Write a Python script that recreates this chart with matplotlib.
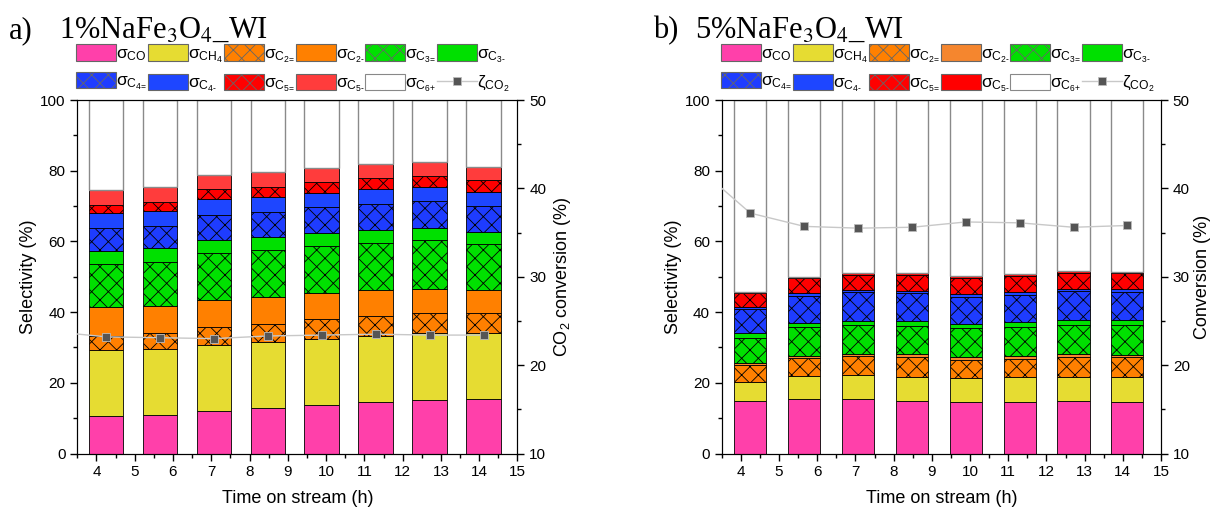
"""
plot.py - product selectivity and CO2 conversion vs time on stream
for the 1% and 5% NaFe3O4_WI catalysts. Writes out.png.
"""

import matplotlib
matplotlib.use("Agg")
import matplotlib.pyplot as plt
from matplotlib.lines import Line2D
from matplotlib.patches import Patch
from matplotlib.ticker import MultipleLocator
import numpy as np

plt.rcParams["font.family"] = ["Liberation Sans", "DejaVu Sans"]
plt.rcParams["mathtext.fontset"] = "custom"
plt.rcParams["mathtext.rm"] = "Liberation Sans"
plt.rcParams["mathtext.it"] = "Liberation Sans:italic"
plt.rcParams["hatch.linewidth"] = 0.6

# time on stream of each sample (h); conversion line also has an earlier point
TIME_H = [4.25, 5.66, 7.07, 8.48, 9.89, 11.30, 12.71, 14.12]
CONV_TIME_H = [2.84] + TIME_H

SPECIES = ["CO", "CH4", "C2=", "C2-", "C3=", "C3-", "C4=", "C4-", "C5=", "C5-"]
LEGEND_LABELS = [
    r"$\mathrm{\sigma}_{\mathrm{CO}}$",
    r"$\mathrm{\sigma}_{\mathrm{CH}_4}$",
    r"$\mathrm{\sigma}_{\mathrm{C}_{2\text{=}}}$",
    r"$\mathrm{\sigma}_{\mathrm{C}_{2\text{-}}}$",
    r"$\mathrm{\sigma}_{\mathrm{C}_{3\text{=}}}$",
    r"$\mathrm{\sigma}_{\mathrm{C}_{3\text{-}}}$",
    r"$\mathrm{\sigma}_{\mathrm{C}_{4\text{=}}}$",
    r"$\mathrm{\sigma}_{\mathrm{C}_{4\text{-}}}$",
    r"$\mathrm{\sigma}_{\mathrm{C}_{5\text{=}}}$",
    r"$\mathrm{\sigma}_{\mathrm{C}_{5\text{-}}}$",
    r"$\mathrm{\sigma}_{\mathrm{C}_{6\text{+}}}$",
]
CONV_LABEL = r"$\mathrm{\zeta}_{\mathrm{CO}_2}$"

# 1%NaFe3O4_WI selectivities (%)
A_CO = [10.7, 11.0, 12.1, 12.9, 13.7, 14.5, 15.1, 15.4]
A_CH4 = [18.6, 18.5, 18.6, 18.6, 18.7, 18.8, 18.9, 18.8]
A_C2E = [4.0, 4.5, 5.0, 5.1, 5.6, 5.5, 5.7, 5.5]
A_C2A = [8.1, 7.8, 7.7, 7.6, 7.3, 7.4, 6.9, 6.6]
A_C3E = [12.1, 12.5, 13.2, 13.4, 13.5, 13.4, 13.7, 13.0]
A_C3A = [3.9, 3.7, 3.8, 3.6, 3.5, 3.5, 3.4, 3.3]
A_C4E = [6.3, 6.4, 7.1, 7.0, 7.3, 7.5, 7.6, 7.5]
A_C4A = [4.2, 4.3, 4.4, 4.4, 4.2, 4.2, 4.0, 3.9]
A_C5E = [2.4, 2.5, 2.8, 2.9, 2.9, 3.0, 3.2, 3.3]
A_C5A = [4.2, 4.1, 4.1, 4.0, 4.2, 4.1, 4.0, 3.8]
A_CONV = [23.8, 23.2, 23.1, 23.0, 23.3, 23.4, 23.5, 23.4, 23.4]

# 5%NaFe3O4_WI selectivities (%)
B_CO = [14.8, 15.4, 15.3, 14.9, 14.5, 14.5, 14.8, 14.5]
B_CH4 = [5.5, 6.5, 6.8, 6.8, 6.8, 7.0, 6.9, 7.1]
B_C2E = [4.7, 5.2, 5.5, 5.7, 5.1, 5.3, 5.7, 5.6]
B_C2A = [0.7, 0.6, 0.5, 0.7, 0.8, 0.8, 0.7, 0.7]
B_C3E = [7.1, 8.0, 8.2, 8.0, 8.2, 8.1, 8.3, 8.4]
B_C3A = [1.2, 1.3, 1.3, 1.4, 1.2, 1.4, 1.4, 1.4]
B_C4E = [6.8, 7.6, 8.0, 7.8, 7.8, 7.7, 8.1, 7.9]
B_C4A = [0.6, 0.7, 0.7, 0.7, 0.7, 0.9, 0.6, 0.8]
B_C5E = [3.9, 4.3, 4.2, 4.5, 4.5, 4.5, 4.5, 4.6]
B_C5A = [0.4, 0.4, 0.6, 0.6, 0.6, 0.6, 0.6, 0.4]
B_CONV = [42.5, 37.2, 35.7, 35.5, 35.6, 36.2, 36.1, 35.6, 35.8]

HATCHES = [None, None, "xx", None, "xx", None, "xx", None, "xx", None]
COLORS_A = ["#FF40AA", "#E6DC32", "#FF8000", "#FF8000", "#00E000", "#00E000",
            "#1E3CFF", "#1E46FF", "#FF0000", "#FF3C3C"]
COLORS_B = ["#FF40AA", "#E6DC32", "#FF8000", "#F5862E", "#00E000", "#00E000",
            "#1E3CFF", "#1E46FF", "#FF0000", "#FF0000"]

W, H = 1212, 509


def px_axes(fig, left, right, top, bottom):
    return fig.add_axes([left / W, 1 - bottom / H, (right - left) / W, (bottom - top) / H])


def draw_panel(fig, ax, series, colors, conv, bar_width, right_label, right_pad,
               tag, name, tag_x, name_x, legend_x):
    bottom = np.zeros(len(TIME_H))
    for vals, color, hatch in zip(series, colors, HATCHES):
        ax.bar(TIME_H, vals, bar_width, bottom=bottom, color=color, hatch=hatch,
               edgecolor="black", linewidth=0.6, zorder=2)
        bottom += np.array(vals)
    ax.bar(TIME_H, 100 - bottom, bar_width, bottom=bottom, color="white",
           edgecolor="#8a8a8a", linewidth=1.0, zorder=2)

    ax.set_xlim(3.5, 15)
    ax.set_ylim(0, 100)
    ax.xaxis.set_major_locator(MultipleLocator(1))
    ax.xaxis.set_minor_locator(MultipleLocator(0.5))
    ax.yaxis.set_major_locator(MultipleLocator(20))
    ax.yaxis.set_minor_locator(MultipleLocator(10))
    ax.tick_params(which="both", direction="out", labelsize=11, width=1)
    ax.tick_params(which="major", length=5)
    ax.tick_params(which="minor", length=3)
    ax.set_xlabel("Time on stream (h)", fontsize=13, labelpad=8)
    ax.set_ylabel("Selectivity (%)", fontsize=13, labelpad=2)

    axr = ax.twinx()
    axr.plot(CONV_TIME_H, conv, color="#c8c8c8", lw=1.0, marker="s", ms=5.5,
             mfc="#555555", mec="#bbbbbb", mew=0.6, zorder=3)
    axr.set_ylim(10, 50)
    axr.set_xlim(3.5, 15)
    axr.yaxis.set_major_locator(MultipleLocator(10))
    axr.yaxis.set_minor_locator(MultipleLocator(5))
    axr.tick_params(which="both", direction="out", labelsize=11, width=1)
    axr.tick_params(which="major", length=5)
    axr.tick_params(which="minor", length=3)
    axr.set_ylabel(right_label, fontsize=13, labelpad=right_pad)

    fig.text(tag_x / W, 1 - 38 / H, tag, fontsize=22, family="Liberation Serif",
             va="baseline")
    fig.text(name_x / W, 1 - 38 / H, name, fontsize=22, family="Liberation Serif",
             math_fontfamily="stix", va="baseline")

    patches = [Patch(facecolor=c, edgecolor="#666666", hatch=h, lw=0.8)
               for c, h in zip(colors, HATCHES)]
    patches.append(Patch(facecolor="white", edgecolor="#888888", lw=0.8))
    line = Line2D([], [], color="#c8c8c8", lw=1.0, marker="s", ms=5.5,
                  mfc="#555555", mec="#bbbbbb", mew=0.6)
    handles = patches + [line]
    labels = LEGEND_LABELS + [CONV_LABEL]
    # legend fills column-major; interleave so rows read left to right
    order = [0, 6, 1, 7, 2, 8, 3, 9, 4, 10, 5, 11]
    ax.legend([handles[i] for i in order], [labels[i] for i in order],
              ncol=6, loc="upper left",
              bbox_to_anchor=(legend_x / W, 1 - 44 / H),
              bbox_transform=fig.transFigure, frameon=False, fontsize=12.5,
              handlelength=2.3, handleheight=1.1, handletextpad=0.0,
              columnspacing=0.05, labelspacing=0.5, borderpad=0,
              borderaxespad=0)
    return axr


fig = plt.figure(figsize=(W / 100, H / 100), dpi=100)
ax_a = px_axes(fig, 77.3, 517.5, 100, 453.5)
ax_b = px_axes(fig, 721.7, 1161, 100, 453.5)

series_a = [A_CO, A_CH4, A_C2E, A_C2A, A_C3E, A_C3A, A_C4E, A_C4A, A_C5E, A_C5A]
series_b = [B_CO, B_CH4, B_C2E, B_C2A, B_C3E, B_C3A, B_C4E, B_C4A, B_C5E, B_C5A]

draw_panel(fig, ax_a, series_a, COLORS_A, A_CONV, 0.91, r"CO$_2$ conversion (%)", 4,
           "a)", r"1%NaFe$_3$O$_4$_WI", 9, 59, 76)
draw_panel(fig, ax_b, series_b, COLORS_B, B_CONV, 0.84, "Conversion (%)", 3,
           "b)", r"5%NaFe$_3$O$_4$_WI", 653, 695, 721)

fig.savefig("out.png", dpi=100)
